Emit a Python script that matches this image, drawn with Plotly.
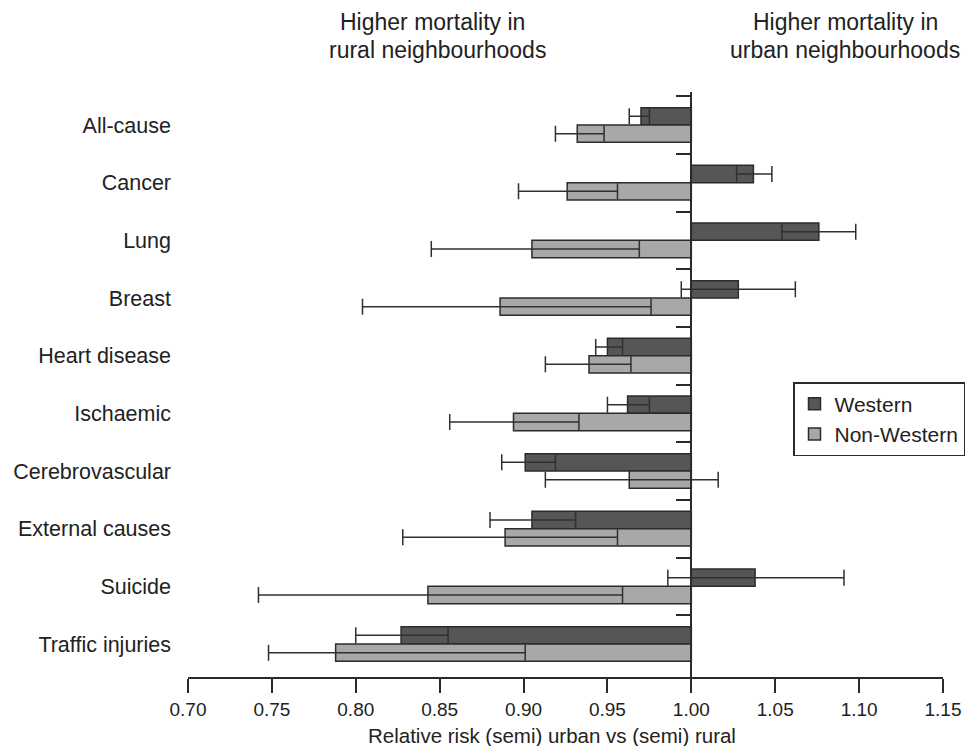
import plotly.graph_objects as go

categories = ["All-cause", "Cancer", "Lung", "Breast", "Heart disease", "Ischaemic",
              "Cerebrovascular", "External causes", "Suicide", "Traffic injuries"]

western_rr = [0.970, 1.037, 1.076, 1.028, 0.950, 0.962, 0.901, 0.905, 1.038, 0.827]
western_lo = [0.963, 1.027, 1.054, 0.994, 0.943, 0.950, 0.887, 0.880, 0.986, 0.800]
western_hi = [0.975, 1.048, 1.098, 1.062, 0.959, 0.975, 0.919, 0.931, 1.091, 0.855]

nonwestern_rr = [0.932, 0.926, 0.905, 0.886, 0.939, 0.894, 0.963, 0.889, 0.843, 0.788]
nonwestern_lo = [0.919, 0.897, 0.845, 0.804, 0.913, 0.856, 0.913, 0.828, 0.742, 0.748]
nonwestern_hi = [0.948, 0.956, 0.969, 0.976, 0.964, 0.933, 1.016, 0.956, 0.959, 0.901]

x_ticks = [0.70, 0.75, 0.80, 0.85, 0.90, 0.95, 1.00, 1.05, 1.10, 1.15]
REF = 1.0

FONT = "Liberation Sans, Arial, Helvetica, sans-serif"
EDGE = "#2b2b2b"

W, H = 977, 746
ML, MR, MT, MB = 188, 34, 92, 69
PW, PH = W - ML - MR, H - MT - MB

def px_x(xpx):
    return (xpx - ML) / PW

def px_y(ypx):
    return (H - MB - ypx) / PH

def trace(name, rr, lo, hi, color):
    return go.Bar(
        name=name, y=categories, x=[v - REF for v in rr], base=REF, orientation="h",
        marker=dict(color=color, line=dict(color=EDGE, width=1.5)),
        error_x=dict(type="data", symmetric=False,
                     array=[h - v for h, v in zip(hi, rr)],
                     arrayminus=[v - l for v, l in zip(rr, lo)],
                     color="#303030", thickness=1.5, width=8),
        hoverinfo="skip",
    )

fig = go.Figure()
fig.add_trace(trace("Western", western_rr, western_lo, western_hi, "#555657"))
fig.add_trace(trace("Non-Western", nonwestern_rr, nonwestern_lo, nonwestern_hi, "#a7a8aa"))
# invisible helper trace for the reference axis at RR = 1
fig.add_trace(go.Scatter(x=[REF] * len(categories), y=categories, yaxis="y2",
                         mode="markers", marker=dict(opacity=0), showlegend=False,
                         hoverinfo="skip"))

x0, x1 = x_ticks[0], x_ticks[-1]
fig.update_layout(
    width=W, height=H,
    margin=dict(l=ML, r=MR, t=MT, b=MB, autoexpand=False),
    paper_bgcolor="white", plot_bgcolor="white",
    barmode="group", bargap=0.4, bargroupgap=0,
    font=dict(family=FONT, size=21, color="#222"),
    xaxis=dict(range=[x0, x1], tickvals=x_ticks, ticktext=[f"{t:.2f}" for t in x_ticks],
               showgrid=False, zeroline=False, showline=True, linecolor=EDGE, linewidth=1.5,
               ticks="outside", ticklen=14, tickwidth=1.5, tickcolor=EDGE,
               tickfont=dict(family=FONT, size=19, color="#222")),
    yaxis=dict(type="category", categoryorder="array", categoryarray=categories,
               autorange="reversed", showgrid=False, zeroline=False, showline=False,
               ticks="", ticklabelstandoff=16,
               tickfont=dict(family=FONT, size=21.5, color="#222")),
    yaxis2=dict(type="category", categoryorder="array", categoryarray=categories,
                overlaying="y", matches="y", anchor="free",
                position=(REF - x0) / (x1 - x0), side="left",
                showgrid=False, zeroline=False, showline=True, linecolor=EDGE, linewidth=1.5,
                ticks="outside", tickson="boundaries", ticklen=15, tickwidth=1.5,
                tickcolor=EDGE, showticklabels=False),
    legend=dict(x=px_x(793), y=px_y(382), xanchor="left", yanchor="top",
                bordercolor=EDGE, borderwidth=1.5, bgcolor="white",
                font=dict(family=FONT, size=21, color="#222"),
                traceorder="normal", tracegroupgap=0),
    showlegend=True,
)

def note(text, xpx, ypx, size=23):
    fig.add_annotation(text=text, xref="paper", yref="paper",
                       x=px_x(xpx), y=px_y(ypx),
                       xanchor="center", yanchor="middle", showarrow=False,
                       font=dict(family=FONT, size=size, color="#222"))

note("Higher mortality in", 432, 22)
note("rural neighbourhoods", 437, 50)
note("Higher mortality in", 845, 22)
note("urban neighbourhoods", 845, 50)
note("Relative risk (semi) urban vs (semi) rural", 552, 735, size=20.5)

fig.write_html("out.html", config={"displayModeBar": False},
               post_script="document.body.style.margin='0px';document.body.style.overflow='hidden';")
